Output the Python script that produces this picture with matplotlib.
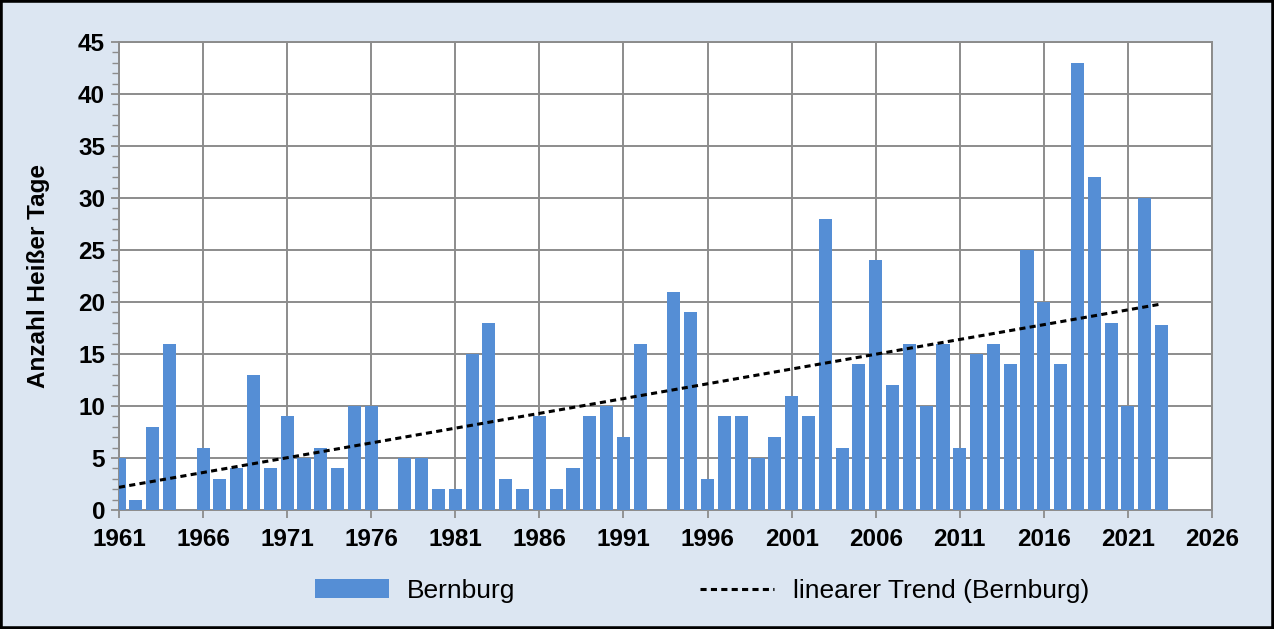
import numpy as np
import matplotlib
matplotlib.use("Agg")
import matplotlib.pyplot as plt
from matplotlib.patches import Rectangle
from matplotlib.ticker import MultipleLocator

plt.rcParams['font.family'] = ['Liberation Sans', 'DejaVu Sans']

# Anzahl heisser Tage (Tmax >= 30 °C), Station Bernburg
jahre = np.arange(1961, 2024)
tage = [5, 1, 8, 16, 0, 6, 3, 4, 13, 4,
        9, 5, 6, 4, 10, 10, 0, 5, 5, 2,
        2, 15, 18, 3, 2, 9, 2, 4, 9, 10,
        7, 16, 0, 21, 19, 3, 9, 9, 5, 7,
        11, 9, 28, 6, 14, 24, 12, 16, 10, 16,
        6, 15, 16, 14, 25, 20, 14, 43, 32, 18,
        10, 30, 17.8]
xticks = np.arange(1961, 2027, 5)

bg = '#DCE6F2'
balken = '#558ED5'
grau = '#8C8C8C'

tage = np.array(tage, dtype=float)
m, b = np.polyfit(jahre, tage, 1)
trend = m * jahre + b

fig = plt.figure(figsize=(12.74, 6.29), dpi=100, facecolor=bg)
ax = fig.add_axes([119 / 1274, 1 - 510 / 629, (1212 - 119) / 1274, (510 - 42) / 629])
ax.set_facecolor('white')

bars = ax.bar(jahre, tage, width=0.78, color=balken,
              label='Bernburg', zorder=3)
ln, = ax.plot(jahre, trend, color='black', lw=2.2, linestyle=(0, (2.0, 1.4)),
              label='linearer Trend (Bernburg)', zorder=4)

ax.set_xlim(1961, 2026)
ax.set_ylim(0, 45)
ax.set_xticks(xticks)
ax.yaxis.set_major_locator(MultipleLocator(5))
ax.yaxis.set_minor_locator(MultipleLocator(1))
ax.grid(True, which='major', color=grau, lw=1.4, zorder=0)
for s in ax.spines.values():
    s.set_color(grau)
    s.set_linewidth(1.4)

ax.tick_params(axis='both', which='major', colors=grau, length=6, width=1.3,
               labelcolor='black', labelsize=17.5)
ax.tick_params(axis='x', pad=7)
ax.tick_params(axis='y', pad=4)
ax.tick_params(axis='y', which='minor', colors=grau, length=5, width=1.0)
for t in ax.get_xticklabels() + ax.get_yticklabels():
    t.set_fontweight('bold')

ax.set_ylabel('Anzahl Heißer Tage', fontsize=17.5, fontweight='bold', labelpad=20)

fig.legend(handles=[bars, ln], labels=['Bernburg', 'linearer Trend (Bernburg)'],
           loc='center', bbox_to_anchor=(0.551, 1 - 591 / 629), ncol=2,
           frameon=False, fontsize=19, handlelength=2.8, handleheight=0.75,
           handletextpad=0.7, columnspacing=7.0)

fig.patches.append(Rectangle((0, 0), 1, 1, transform=fig.transFigure,
                             fill=False, edgecolor='black', lw=4))

fig.savefig('out.png', dpi=100, facecolor=bg)
